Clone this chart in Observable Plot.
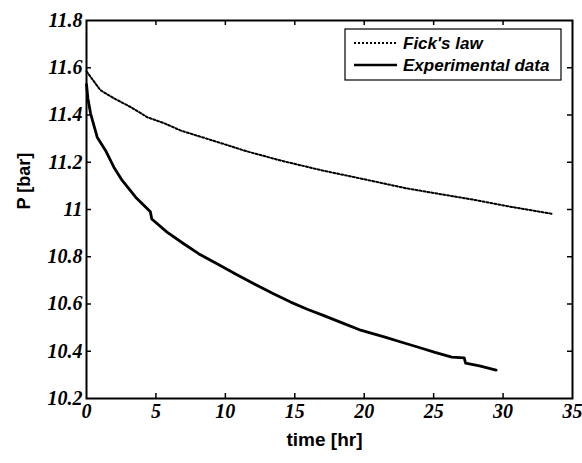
<!DOCTYPE html>
<html><head><meta charset="utf-8">
<script src="https://cdn.jsdelivr.net/npm/d3@7"></script>
<script src="https://cdn.jsdelivr.net/npm/@observablehq/plot@0.6"></script>
<style>
body{margin:0;background:#fff}
g.ticklab text{font-family:"Liberation Serif","Times New Roman",serif !important;font-style:italic !important;font-weight:bold !important;font-size:20px !important}
</style>
</head><body><div id="chart"></div>
<script>
// Data
const fickTime = [0, 0.5, 1, 2, 3.2, 4.4, 5.6, 6.8, 8.1, 9.2, 11.5, 14, 17, 20, 23, 25.5, 28, 30.5, 33.5];
const fickP    = [11.585, 11.545, 11.505, 11.47, 11.433, 11.39, 11.365, 11.334, 11.31, 11.29, 11.247, 11.207, 11.165, 11.128, 11.09, 11.065, 11.04, 11.012, 10.982];
const expTime  = [0, 0.1, 0.3, 0.77, 1.37, 1.97, 2.57, 3.54, 4.6, 4.7, 5.8, 7.0, 8.1, 9.4, 10.8, 12.3, 13.5, 14.7, 15.9, 17.1, 18.5, 19.8, 21.5, 22.7, 23.9, 25.1, 26.3, 27.2, 27.3, 28.3, 29.5];
const expP     = [11.53, 11.47, 11.405, 11.306, 11.25, 11.179, 11.123, 11.052, 10.99, 10.96, 10.904, 10.855, 10.812, 10.77, 10.725, 10.678, 10.642, 10.608, 10.578, 10.551, 10.518, 10.488, 10.46, 10.438, 10.417, 10.395, 10.375, 10.372, 10.35, 10.338, 10.32];
const xTicks = [0, 5, 10, 15, 20, 25, 30, 35];
const yTicks = [10.2, 10.4, 10.6, 10.8, 11, 11.2, 11.4, 11.6, 11.8];
const seriesNames = ["Fick's law", "Experimental data"];
const xLabel = "time [hr]";
const yLabel = "P [bar]";

const W = 582, H = 463, mT = 20, mR = 10, mB = 65, mL = 86;
const plotH = H - mT - mB, plotW = W - mL - mR;
const fick = fickTime.map((t, i) => ({t, p: fickP[i]}));
const exp = expTime.map((t, i) => ({t, p: expP[i]}));
const inner = (a) => a.slice(1, -1);

const svg = Plot.plot({
  width: W, height: H,
  marginTop: mT, marginRight: mR, marginBottom: mB, marginLeft: mL,
  x: {domain: [0, 35], axis: null},
  y: {domain: [10.2, 11.8], axis: null},
  marks: [
    Plot.text(xTicks, {x: d => d, text: d => String(d), frameAnchor: "bottom", lineAnchor: "top", dy: 5,
      fontFamily: "Liberation Serif", fontStyle: "italic", fontWeight: "bold", fontSize: 20, fill: "black", className: "ticklab"}),
    Plot.text(yTicks, {y: d => d, text: d => String(d), frameAnchor: "left", textAnchor: "end", lineAnchor: "middle", dx: -4,
      fontFamily: "Liberation Serif", fontStyle: "italic", fontWeight: "bold", fontSize: 20, fill: "black", className: "ticklab"}),
    Plot.tickX(inner(xTicks), {x: d => d, insetTop: plotH - 5, strokeWidth: 1.5}),
    Plot.tickX(inner(xTicks), {x: d => d, insetBottom: plotH - 5, strokeWidth: 1.5}),
    Plot.tickY(inner(yTicks), {y: d => d, insetRight: plotW - 5, strokeWidth: 1.5}),
    Plot.tickY(inner(yTicks), {y: d => d, insetLeft: plotW - 5, strokeWidth: 1.5}),
    Plot.line(fick, {x: "t", y: "p", stroke: "black", strokeWidth: 2, strokeDasharray: "2,2"}),
    Plot.line(exp, {x: "t", y: "p", stroke: "black", strokeWidth: 2.8}),
    Plot.frame({stroke: "black", strokeWidth: 2}),
    Plot.text([xLabel], {text: d => d, frameAnchor: "bottom", dy: 41, dx: -5, lineAnchor: "middle",
      fontFamily: "Liberation Sans", fontWeight: "bold", fontSize: 19, fill: "black"}),
    Plot.text([yLabel], {text: d => d, frameAnchor: "left", dx: -62, rotate: -90, lineAnchor: "middle",
      fontFamily: "Liberation Sans", fontWeight: "bold", fontSize: 18, fill: "black"})
  ]
});

// Legend (top-right box)
const g = d3.select(svg).append("g").attr("text-anchor", "start");
g.append("rect").attr("x", 345).attr("y", 29).attr("width", 216).attr("height", 51)
  .attr("fill", "white").attr("stroke", "black").attr("stroke-width", 1.2);
const styles = [{dash: "2,2", w: 2}, {dash: null, w: 2.5}];
seriesNames.forEach((name, i) => {
  const y = 43 + i * 22;
  const ln = g.append("line").attr("x1", 354).attr("x2", 397).attr("y1", y).attr("y2", y)
    .attr("stroke", "black").attr("stroke-width", styles[i].w);
  if (styles[i].dash) ln.attr("stroke-dasharray", styles[i].dash);
  g.append("text").attr("x", 403).attr("y", y).attr("dy", "0.36em")
    .attr("font-family", "Liberation Sans").attr("font-size", 17).attr("font-weight", "bold")
    .attr("font-style", "italic").attr("fill", "black").text(name);
});
document.getElementById("chart").appendChild(svg);
</script>
</body></html>
